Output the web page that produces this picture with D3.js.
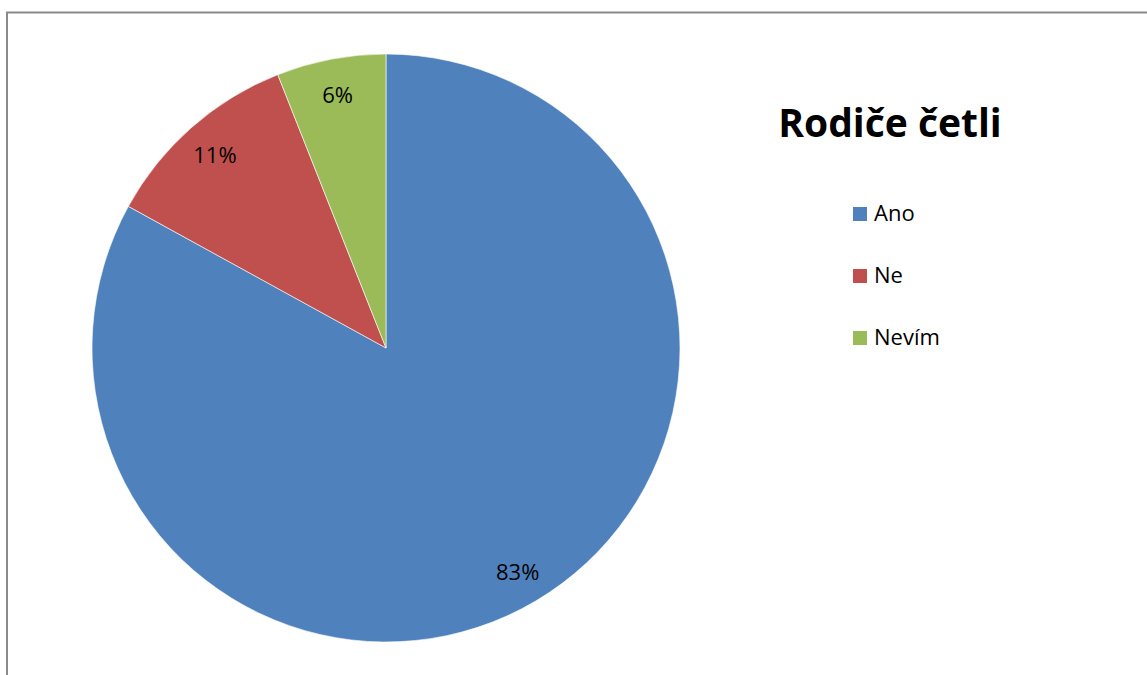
<!DOCTYPE html>
<html>
<head>
<meta charset="utf-8">
<script src="https://d3js.org/d3.v7.min.js"></script>
<style>
  html, body { margin: 0; padding: 0; background: #fff; }
  svg { display: block; }
  text { font-family: "Open Sans", "Liberation Sans", sans-serif; fill: #000; }
</style>
</head>
<body>
<svg id="chart" width="1147" height="675"></svg>
<script>
// Survey answers: did the parents read?
const categories = ["Ano", "Ne", "Nevím"];
const values = [83, 11, 6];
const colors = ["#4F81BD", "#C0504D", "#9BBB59"];
const title = "Rodiče četli";

const width = 1147, height = 675;
const svg = d3.select("#chart");

// chart area frame (extends past the right and bottom edges)
svg.append("rect")
  .attr("x", 7).attr("y", 12.5)
  .attr("width", 1200).attr("height", 700)
  .attr("fill", "#fff")
  .attr("stroke", "#8a8a8a")
  .attr("stroke-width", 2);

const cx = 386, cy = 348, r = 294;
const data = categories.map((c, i) => ({ name: c, value: values[i], color: colors[i] }));

const pie = d3.pie().value(d => d.value).sort(null);
const arcs = pie(data);
const arc = d3.arc().innerRadius(0).outerRadius(r);
const labelArc = d3.arc().innerRadius(r * 0.88).outerRadius(r * 0.88);

const g = svg.append("g").attr("transform", `translate(${cx},${cy})`);

g.selectAll("path.slice")
  .data(arcs)
  .join("path")
  .attr("class", "slice")
  .attr("d", arc)
  .attr("fill", d => d.data.color)
  .attr("stroke", "#fff")
  .attr("stroke-width", 0.6)
  .attr("stroke-linejoin", "round");

const fmt = d3.format(".0%");
const total = d3.sum(values);
g.selectAll("text.lbl")
  .data(arcs)
  .join("text")
  .attr("class", "lbl")
  .attr("transform", d => `translate(${labelArc.centroid(d)})`)
  .attr("text-anchor", "middle")
  .attr("dominant-baseline", "central")
  .style("font-size", "22px")
  .text(d => fmt(d.data.value / total));

// title
svg.append("text")
  .attr("x", 890).attr("y", 137)
  .attr("text-anchor", "middle")
  .style("font-size", "39px")
  .style("font-weight", "bold")
  .text(title);

// legend
const legend = svg.append("g").attr("transform", "translate(853,207)");
const item = legend.selectAll("g")
  .data(data)
  .join("g")
  .attr("transform", (d, i) => `translate(0,${i * 62})`);
item.append("rect")
  .attr("width", 14).attr("height", 14)
  .attr("fill", d => d.color);
item.append("text")
  .attr("x", 21).attr("y", 14)
  .style("font-size", "22px")
  .text(d => d.name);
</script>
</body>
</html>
